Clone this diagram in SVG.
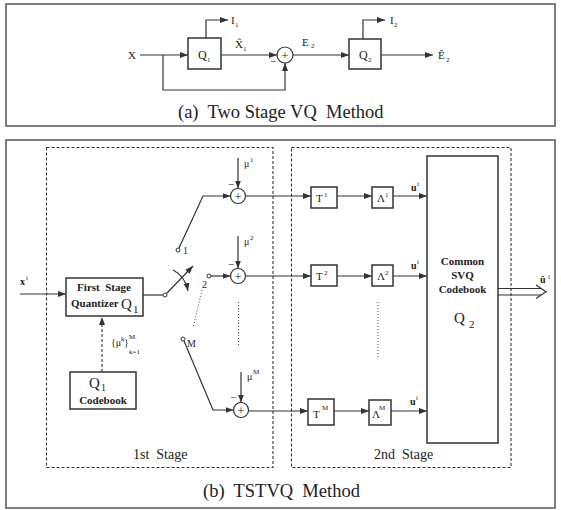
<svg xmlns="http://www.w3.org/2000/svg" width="561" height="510" viewBox="0 0 561 510">
<style>
text{font-family:"Liberation Serif","Times New Roman",serif;fill:#222}
.b{font-weight:bold}
.s11{font-size:11px}
.s10{font-size:10px}
.sup{font-size:7px}
.q{font-size:15px}
.ln{fill:none;stroke:#333;stroke-width:1.2}
.bx{fill:#fff;stroke:#333;stroke-width:1.5}
.panel{fill:#fff;stroke:#555;stroke-width:1.5}
.dash{fill:none;stroke:#333;stroke-width:1.1;stroke-dasharray:3,2}
.dot{fill:none;stroke:#444;stroke-width:1;stroke-dasharray:1,2}
.sum{fill:#fff;stroke:#333;stroke-width:1.2}
.ct{fill:#fff;stroke:#333;stroke-width:1}
.cap{font-size:18.5px}
.stg{font-size:14px}
</style>
<defs>
<marker id="ah" viewBox="0 0 8 6" refX="8" refY="3" markerWidth="8" markerHeight="6" orient="auto" markerUnits="userSpaceOnUse"><path d="M0,0 L8,3 L0,6 z" fill="#333"/></marker>
</defs>
<rect class="panel" x="6" y="4" width="549" height="122"/>
<rect class="panel" x="6" y="140" width="549" height="368"/>

<g id="connectors">
<line class="ln" x1="140" y1="55" x2="188" y2="55" marker-end="url(#ah)"/>
<polyline class="ln" points="206,38 206,20 228,20" marker-end="url(#ah)"/>
<line class="ln" x1="221" y1="55" x2="277" y2="55" marker-end="url(#ah)"/>
<polyline class="ln" points="163,55 163,90 285,90 285,63" marker-end="url(#ah)"/>
<line class="ln" x1="293" y1="55" x2="349" y2="55" marker-end="url(#ah)"/>
<polyline class="ln" points="363,39 363,20 385,20" marker-end="url(#ah)"/>
<line class="ln" x1="381" y1="55" x2="433" y2="55" marker-end="url(#ah)"/>
<line class="ln" x1="20" y1="294" x2="66" y2="294" marker-end="url(#ah)"/>
<line class="ln" x1="143" y1="295" x2="163" y2="295"/>
<line class="ln" x1="166.5" y1="293.5" x2="193" y2="266" marker-end="url(#ah)"/>
<path class="ln" d="M173,270 Q185,276 188,291" marker-end="url(#ah)"/>
<polyline class="ln" points="179,248 203,196 230.5,196" marker-end="url(#ah)"/>
<line class="ln" x1="238" y1="158" x2="238" y2="188.5" marker-end="url(#ah)"/>
<line class="ln" x1="245.5" y1="196" x2="311" y2="196" marker-end="url(#ah)"/>
<line class="ln" x1="337" y1="196" x2="372" y2="196" marker-end="url(#ah)"/>
<line class="ln" x1="393" y1="196" x2="427" y2="196" marker-end="url(#ah)"/>
<line class="ln" x1="211" y1="276" x2="230.5" y2="276" marker-end="url(#ah)"/>
<line class="ln" x1="238" y1="236" x2="238" y2="268.5" marker-end="url(#ah)"/>
<line class="ln" x1="245.5" y1="276" x2="311" y2="276" marker-end="url(#ah)"/>
<line class="ln" x1="337" y1="276" x2="372" y2="276" marker-end="url(#ah)"/>
<line class="ln" x1="393" y1="276" x2="427" y2="276" marker-end="url(#ah)"/>
<polyline class="ln" points="184,341 213,410 233.5,410" marker-end="url(#ah)"/>
<line class="ln" x1="241" y1="372" x2="241" y2="402.5" marker-end="url(#ah)"/>
<line class="ln" x1="248.5" y1="411" x2="308" y2="411" marker-end="url(#ah)"/>
<line class="ln" x1="334" y1="411" x2="369" y2="411" marker-end="url(#ah)"/>
<line class="ln" x1="391" y1="411" x2="427" y2="411" marker-end="url(#ah)"/>
<line class="dash" x1="102" y1="372" x2="102" y2="317" marker-end="url(#ah)"/>
<line class="dot" x1="238.5" y1="302" x2="238.5" y2="347"/>
<line class="dot" x1="378" y1="302" x2="378" y2="358"/>
<line class="dot" x1="202" y1="290" x2="193" y2="328"/>
<line class="ln" x1="498" y1="288.5" x2="541" y2="288.5"/>
<line class="ln" x1="498" y1="295" x2="541" y2="295"/>
<polyline class="ln" points="536,285 546,291.7 536,298.5"/>
</g>

<g id="q1top">
<rect class="bx" x="188" y="38" width="33" height="31"/>
<text x="198" y="59" font-size="12">Q</text><text x="207" y="62" class="sup">1</text>
</g>
<g id="sumtop">
<circle class="sum" cx="285" cy="55" r="8"/>
<text x="285" y="59.5" font-size="13" text-anchor="middle">+</text>
</g>
<g id="q2top">
<rect class="bx" x="349" y="39" width="32" height="30"/>
<text x="359" y="59" font-size="12">Q</text><text x="368" y="62" class="sup">2</text>
</g>
<g id="toplabels">
<text x="128" y="59" class="s11">X</text>
<text x="231" y="24" class="s11">I</text><text x="235" y="27" class="sup">1</text>
<text x="235" y="48" class="s11">X̂</text><text x="243" y="51" class="sup">1</text>
<text x="270" y="65" class="s11">−</text>
<text x="302" y="46" class="s11">E</text><text x="311" y="48" class="sup">2</text>
<text x="390" y="24" class="s11">I</text><text x="394" y="27" class="sup">2</text>
<text x="438" y="59" class="s11">Ê</text><text x="446" y="62" class="sup">2</text>
<text x="178" y="118" class="cap" xml:space="preserve">(a)  Two Stage VQ  Method</text>
</g>

<rect class="dash" x="46.5" y="147.5" width="226.5" height="320"/>
<rect class="dash" x="291.5" y="147.5" width="219.5" height="320"/>

<g id="fsq">
<rect class="bx" x="66" y="278" width="77" height="38"/>
<text x="104" y="291" class="b s11" text-anchor="middle" xml:space="preserve">First  Stage</text>
<text x="71" y="307" class="b s11">Quantizer</text>
<text x="121" y="309" class="q">Q</text><text x="133" y="313" class="s11">1</text>
</g>
<g id="q1cb">
<rect class="bx" x="70" y="372" width="66" height="37"/>
<text x="89" y="388" class="q">Q</text><text x="101" y="391" font-size="10">1</text>
<text x="103" y="404" class="b s11" text-anchor="middle">Codebook</text>
</g>
<g id="switch">
<circle class="ct" cx="165" cy="295" r="2"/>
<circle class="ct" cx="178" cy="250" r="2"/>
<circle class="ct" cx="209" cy="276" r="2"/>
<circle class="ct" cx="183" cy="339" r="2"/>
<text x="183" y="254" class="s10">1</text>
<text x="202" y="288" class="s10">2</text>
<text x="187" y="347" class="s10">M</text>
</g>
<g id="sum1">
<circle class="sum" cx="238" cy="196" r="7.5"/>
<text x="238" y="200.5" font-size="13" text-anchor="middle">+</text>
<text x="228" y="188" class="s11">−</text>
<text x="244" y="167" class="s10">μ</text><text x="250" y="162" class="sup">1</text>
</g>
<g id="sum2">
<circle class="sum" cx="238" cy="276" r="7.5"/>
<text x="238" y="280.5" font-size="13" text-anchor="middle">+</text>
<text x="228" y="268" class="s11">−</text>
<text x="244" y="245" class="s10">μ</text><text x="250" y="240" class="sup">2</text>
</g>
<g id="sumM">
<circle class="sum" cx="241" cy="410" r="7.5"/>
<text x="241" y="414.5" font-size="13" text-anchor="middle">+</text>
<text x="230" y="401" class="s11">−</text>
<text x="247" y="380" class="s10">μ</text><text x="253" y="374" class="sup">M</text>
</g>
<g id="t1">
<rect class="bx" x="311" y="187" width="26" height="21"/>
<text x="316" y="202" class="s11">T</text><text x="324" y="197" class="sup">1</text>
</g>
<g id="l1">
<rect class="bx" x="372" y="187" width="21" height="21"/>
<text x="377" y="202" class="s11">Λ</text><text x="385" y="197" class="sup">1</text>
</g>
<g id="t2">
<rect class="bx" x="311" y="265" width="26" height="21"/>
<text x="316" y="280" class="s11">T</text><text x="324" y="275" class="sup">2</text>
</g>
<g id="l2">
<rect class="bx" x="372" y="265" width="21" height="21"/>
<text x="377" y="280" class="s11">Λ</text><text x="385" y="275" class="sup">2</text>
</g>
<g id="tM">
<rect class="bx" x="308" y="399" width="26" height="26"/>
<text x="313" y="418" class="s11">T</text><text x="322" y="410" class="sup">M</text>
</g>
<g id="lM">
<rect class="bx" x="369" y="400" width="22" height="25"/>
<text x="372" y="418" class="s11">Λ</text><text x="379" y="410" class="sup">M</text>
</g>
<g id="svq">
<rect class="bx" x="427" y="156" width="71" height="287"/>
<text x="462.5" y="265" class="b s11" text-anchor="middle">Common</text>
<text x="462.5" y="279" class="b s11" text-anchor="middle">SVQ</text>
<text x="462.5" y="293" class="b s11" text-anchor="middle">Codebook</text>
<text x="454" y="323" class="q">Q</text><text x="469" y="328" class="s11">2</text>
</g>
<g id="labels">
<text x="20" y="285" class="b s10">x</text><text x="26" y="280" class="sup">i</text>
<text x="411" y="191" class="b s10">u</text><text x="417" y="186" class="sup">i</text>
<text x="411" y="269" class="b s10">u</text><text x="417" y="264" class="sup">i</text>
<text x="410" y="405" class="b s10">u</text><text x="416" y="400" class="sup">i</text>
<text x="540" y="283" class="b s10">û</text><text x="548" y="279" class="sup">i</text>
<text x="111" y="346" class="s10">{μ</text><text x="121" y="341" class="sup">k</text><text x="124" y="346" class="s10">}</text>
<text x="129" y="339" class="sup">M</text><text x="129" y="354" class="sup">k=1</text>
<text x="133" y="459" class="stg" xml:space="preserve">1st  Stage</text>
<text x="374" y="459" class="stg" xml:space="preserve">2nd  Stage</text>
<text x="203" y="497" class="cap" xml:space="preserve">(b)  TSTVQ  Method</text>
</g>
</svg>
